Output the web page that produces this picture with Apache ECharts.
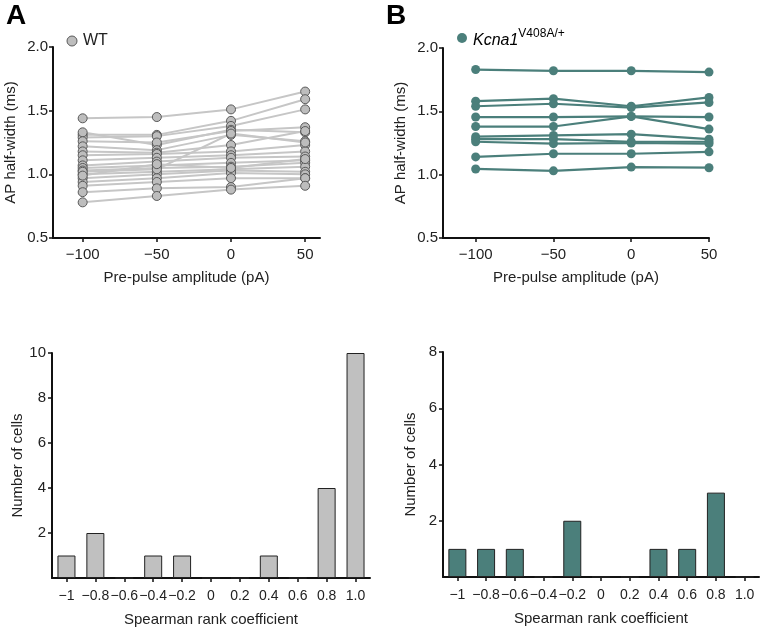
<!DOCTYPE html>
<html><head><meta charset="utf-8">
<script src="https://cdn.jsdelivr.net/npm/echarts@6/dist/echarts.min.js"></script>
<style>html,body{margin:0;padding:0;background:#fff}#c{width:762px;height:628px}</style>
</head><body><div id="c"></div>
<script>
// ---- data ----
const pulseX = [-100, -50, 0, 50];
const wtLines = [
  [1.44, 1.45, 1.51, 1.65],
  [1.31, 1.31, 1.42, 1.59],
  [1.29, 1.30, 1.38, 1.51],
  [1.33, 1.23, 1.35, 1.33],
  [1.26, 1.25, 1.34, 1.37],
  [1.22, 1.19, 1.31, 1.26],
  [1.18, 1.17, 1.23, 1.34],
  [1.15, 1.16, 1.18, 1.23],
  [1.11, 1.13, 1.15, 1.18],
  [1.07, 1.10, 1.13, 1.14],
  [1.05, 1.07, 1.09, 1.11],
  [1.03, 1.05, 1.06, 1.09],
  [1.00, 1.02, 1.04, 1.06],
  [0.97, 1.00, 1.03, 1.02],
  [0.94, 0.97, 1.01, 1.00],
  [0.91, 0.94, 0.97, 0.97],
  [0.86, 0.89, 0.90, 0.97],
  [0.78, 0.83, 0.88, 0.91],
  [1.02, 1.04, 1.32, 1.25],
  [0.99, 1.08, 1.05, 1.12]
];
const kcnaLines = [
  [1.83, 1.82, 1.82, 1.81],
  [1.58, 1.60, 1.54, 1.61],
  [1.54, 1.56, 1.53, 1.57],
  [1.455, 1.455, 1.46, 1.455],
  [1.38, 1.38, 1.46, 1.36],
  [1.30, 1.31, 1.32, 1.28],
  [1.28, 1.28, 1.26, 1.26],
  [1.26, 1.245, 1.25, 1.245],
  [1.14, 1.165, 1.165, 1.18],
  [1.045, 1.03, 1.06, 1.055]
];
const rhoCats = ['\u22121', '\u22120.8', '\u22120.6', '\u22120.4', '\u22120.2', '0', '0.2', '0.4', '0.6', '0.8', '1.0'];
const wtCounts = [1, 2, 0, 1, 1, 0, 0, 1, 0, 4, 10];
const kcnaCounts = [1, 1, 1, 0, 2, 0, 0, 1, 1, 3, 0];
const halfTicks = [-100, -50, 0, 50];

// ---- style ----
const FONT = 'Liberation Sans, Arial, sans-serif';
const GRAY_LINE = '#c6c6c6', GRAY_FILL = '#bdbdbd', TEAL = '#4b7f7b';
const axisLine = {show: true, onZero: false, lineStyle: {color: '#111', width: 2}};
const tick = {show: true, length: 4, lineStyle: {color: '#111', width: 1.5}};
const lbl = {color: '#222', fontSize: 15, fontFamily: FONT};
const nameStyle = {color: '#222', fontSize: 15, fontFamily: FONT};

function topX(idx, min, max) {
  return {gridIndex: idx, type: 'value', min: min, max: max,
    axisLine: axisLine, splitLine: {show: false},
    axisTick: Object.assign({}, tick, {customValues: halfTicks}),
    axisLabel: Object.assign({}, lbl, {customValues: halfTicks, margin: 9,
      formatter: v => (v < 0 ? '\u2212' + Math.abs(v) : String(v))}),
    name: 'Pre-pulse amplitude (pA)', nameLocation: 'middle', nameGap: 32,
    nameTextStyle: nameStyle};
}
function topY(idx) {
  return {gridIndex: idx, type: 'value', min: 0.5, max: 2.0, interval: 0.5,
    axisLine: axisLine, splitLine: {show: false}, axisTick: tick,
    axisLabel: Object.assign({}, lbl, {formatter: v => v.toFixed(1), margin: 5}),
    name: 'AP half-width (ms)', nameLocation: 'middle', nameGap: 35,
    nameTextStyle: nameStyle};
}
function botX(idx) {
  return {gridIndex: idx, type: 'category', data: rhoCats,
    axisLine: axisLine, splitLine: {show: false},
    axisTick: Object.assign({}, tick, {alignWithLabel: true}),
    axisLabel: Object.assign({}, lbl, {fontSize: 14, interval: 0, margin: 11}),
    name: 'Spearman rank coefficient', nameLocation: 'middle', nameGap: 34,
    nameTextStyle: nameStyle};
}
function botY(idx, max, gap) {
  return {gridIndex: idx, type: 'value', min: 0, max: max, interval: 2,
    axisLine: axisLine, splitLine: {show: false}, axisTick: tick,
    axisLabel: Object.assign({}, lbl, {showMinLabel: false, margin: 6}),
    name: 'Number of cells', nameLocation: 'middle', nameGap: gap,
    nameTextStyle: nameStyle};
}

const series = [];
function addLines(lines, xi, color, lineW) {
  lines.forEach(ln => series.push({type: 'line', xAxisIndex: xi, yAxisIndex: xi,
    data: ln.map((v, i) => [pulseX[i], v]), symbol: 'none', silent: true,
    lineStyle: {color: color, width: lineW}, z: 2}));
}
function addPoints(lines, xi, fill, border) {
  const pts = [];
  lines.forEach(ln => ln.forEach((v, i) => pts.push([pulseX[i], v])));
  series.push({type: 'scatter', xAxisIndex: xi, yAxisIndex: xi, data: pts,
    symbolSize: 9, itemStyle: {color: fill, borderColor: border, borderWidth: border ? 1 : 0, opacity: 1}, z: 3});
}
addLines(wtLines, 0, GRAY_LINE, 2);
addPoints(wtLines, 0, GRAY_FILL, '#5a5a5a');
addLines(kcnaLines, 1, TEAL, 2.2);
addPoints(kcnaLines, 1, TEAL, null);
series.push({type: 'bar', xAxisIndex: 2, yAxisIndex: 2, data: wtCounts, barWidth: 18,
  itemStyle: {color: '#c0c0c0', borderColor: '#222', borderWidth: 1}});
series.push({type: 'bar', xAxisIndex: 3, yAxisIndex: 3, data: kcnaCounts, barWidth: 18,
  itemStyle: {color: TEAL, borderColor: '#222', borderWidth: 1}});

const chart = echarts.init(document.getElementById('c'), null, {renderer: 'canvas'});
chart.setOption({
  animation: false,
  backgroundColor: '#fff',
  grid: [
    {left: 53, top: 47, width: 267, height: 191},
    {left: 443, top: 48, width: 266, height: 190},
    {left: 52, top: 353, width: 318, height: 229},
    {left: 443, top: 352, width: 316, height: 225}
  ],
  xAxis: [topX(0, -120, 60), topX(1, -121, 50), botX(2), botX(3)],
  yAxis: [topY(0), topY(1), botY(2, 10, 24), botY(3, 8, 25)],
  series: series,
  graphic: [
    {type: 'text', left: 6, top: 2, style: {text: 'A', fontSize: 28, fontWeight: 'bold', fontFamily: FONT, fill: '#000'}},
    {type: 'text', left: 386, top: 2, style: {text: 'B', fontSize: 28, fontWeight: 'bold', fontFamily: FONT, fill: '#000'}},
    {type: 'circle', shape: {cx: 72, cy: 41, r: 5}, style: {fill: GRAY_FILL, stroke: '#5a5a5a', lineWidth: 1}},
    {type: 'text', left: 83, top: 33, style: {text: 'WT', fontSize: 16, fontFamily: FONT, fill: '#222'}},
    {type: 'circle', shape: {cx: 462, cy: 38, r: 5}, style: {fill: TEAL}},
    {type: 'text', left: 473, top: 28, style: {
      text: '{i|Kcna1}{s|V408A/+}', fontFamily: FONT,
      rich: {i: {fontSize: 16, fontStyle: 'italic', fontFamily: FONT, color: '#222', padding: [5, 0, 0, 0]},
             s: {fontSize: 12, fontFamily: FONT, color: '#222', verticalAlign: 'top', padding: [0, 0, 5, 0]}}}}
  ]
});
</script></body></html>
